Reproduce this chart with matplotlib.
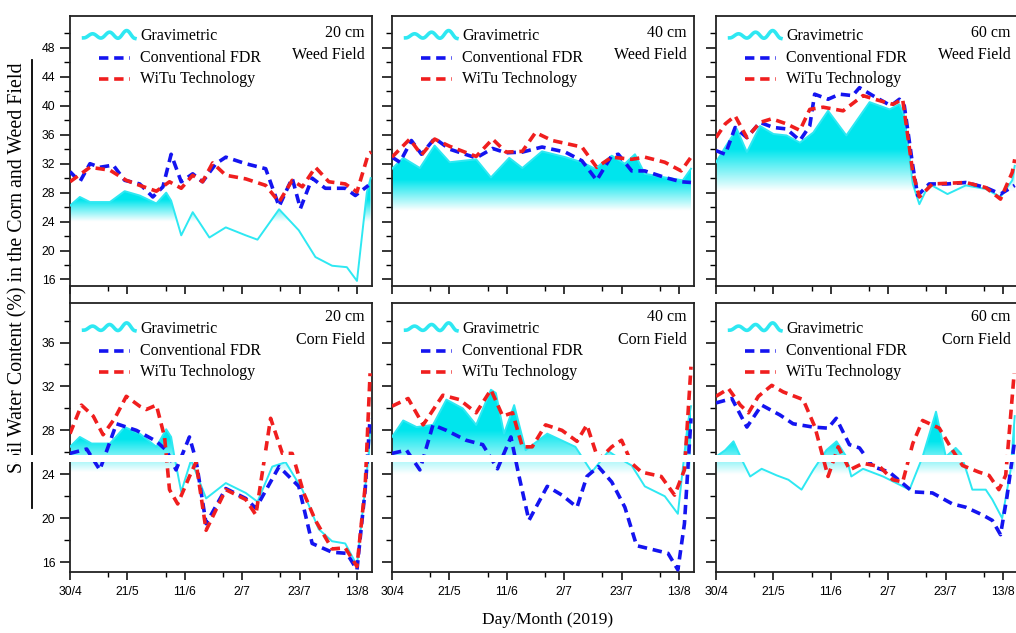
import numpy as np
import matplotlib
matplotlib.use("Agg")
import matplotlib.pyplot as plt
from matplotlib.lines import Line2D
from matplotlib.patches import Rectangle
from matplotlib.ticker import FixedLocator

# ==========================================================
# DATA  (days after 30/4/2019, soil water content %)
# ==========================================================
TICK_DAYS = [0, 21, 42, 63, 84, 105]
TICK_LABELS = ["30/4", "21/5", "11/6", "2/7", "23/7", "13/8"]
MINOR_DAYS = [14, 35, 56, 77, 98]

# --- Weed field, 20 cm
w20_grav_d = [0, 3.6, 7.3, 14.6, 20, 25.5, 31.6, 35.2, 37, 40.7, 44.9, 51, 57, 64.3, 68.6, 76.5, 83.7, 89.8, 95.9, 101.3, 105, 108.6, 110]
w20_grav = [26.2, 27.4, 26.7, 26.7, 28.2, 27.6, 26.5, 28, 26.9, 22.1, 25.3, 21.8, 23.2, 22.1, 21.5, 25.7, 22.8, 19.1, 17.9, 17.7, 15.8, 28, 30]
w20_fdr_d = [0, 3.6, 7.3, 10.9, 15.8, 20, 25.5, 30.3, 34, 37, 40.7, 44.9, 48.5, 53.4, 57, 64.3, 71.6, 76.5, 81.3, 84.3, 88.6, 93.4, 100.7, 104.4, 109.2]
w20_fdr = [30.9, 29.5, 32, 31.5, 31.8, 29.7, 29.2, 27.4, 28.8, 33.3, 29.5, 30.6, 29.5, 32, 32.9, 32, 31.3, 26.1, 30, 25.8, 30, 28.6, 28.6, 27.6, 29]
w20_witu_d = [0, 7.3, 14.6, 20.6, 25.5, 31.6, 36.4, 40.7, 44.9, 48.5, 52.2, 57, 64.3, 71.6, 76.5, 81.3, 85, 89.8, 94.7, 100.7, 105, 109.2, 110.2]
w20_witu = [29.5, 31.5, 31.1, 29.7, 29, 28.2, 29.5, 28.6, 30.4, 29.5, 32.1, 30.4, 29.9, 29, 26.7, 29.7, 28.8, 31.5, 29.5, 29.2, 28.1, 33.4, 33.6]

# --- Weed field, 40 cm
w40_grav_d = [0, 4.1, 10.2, 15.6, 21.1, 30.8, 36.2, 42.9, 47.7, 54.9, 63.4, 69.5, 74.3, 80.4, 85.2, 88.9, 92.5, 99.8, 106.4, 109.4]
w40_grav = [31.3, 32.8, 31.4, 34.5, 32.2, 32.6, 30.1, 32.8, 31.4, 33.7, 32.9, 32.2, 31.3, 33.1, 32, 33.3, 30.6, 30.1, 29.7, 31.3]
w40_fdr_d = [0, 2.9, 7.1, 10.8, 15.6, 21.1, 30.8, 36.8, 41.7, 47.7, 54.9, 63.4, 69.5, 74.9, 80.4, 82.8, 87.7, 92.5, 99.8, 105.8, 109.4]
w40_fdr = [32.9, 32.2, 35.2, 33.3, 35.5, 34, 32.8, 34.1, 33.5, 33.6, 34.3, 33.6, 32.4, 29.7, 33.1, 33.3, 31, 31, 30.1, 29.5, 29.4]
w40_witu_d = [0, 6.5, 10.8, 15.6, 21.1, 30.8, 36.8, 41.7, 47.7, 52.5, 58.6, 69.5, 74.9, 80.4, 87.7, 92.5, 99.8, 105.8, 109.4]
w40_witu = [32.9, 35.4, 33.2, 35.4, 34.4, 33, 35.4, 33.6, 33.7, 36.3, 35.2, 34.3, 31.5, 32.9, 32.6, 32.9, 32.2, 31, 32.9]

# --- Weed field, 60 cm
w60_grav_d = [0, 3.4, 7.6, 11.3, 16.1, 21, 25.8, 30.7, 35.6, 41, 47.7, 56.2, 63.5, 67.1, 68.9, 72, 74.4, 78, 84.7, 91.4, 98.7, 104.1, 108.4, 109.3]
w60_grav = [32.2, 34.3, 36.8, 33.6, 37.2, 36.1, 35.9, 34.9, 36.3, 39.3, 35.9, 40.5, 39.5, 40.2, 38.6, 29.2, 26.4, 29.2, 27.8, 29, 28.5, 27.4, 29.7, 31.7]
w60_fdr_d = [0, 3.4, 7.0, 11.3, 16.1, 21, 25.8, 30.7, 34.3, 36.1, 41, 45.2, 50, 52.5, 57.4, 64, 67.1, 68.9, 72, 73.8, 78, 84.7, 91.4, 98.7, 104.1, 109.3]
w60_fdr = [33.8, 33.3, 37, 35.6, 37.7, 37, 36.8, 35.2, 37.2, 41.6, 40.9, 41.6, 41.4, 42.5, 41.4, 40, 40.9, 40, 31.7, 27.6, 29.2, 29.2, 29.4, 28.7, 27.8, 29]
w60_witu_d = [0, 3.4, 7.0, 11.3, 16.1, 20.4, 25.8, 30.7, 34.3, 39.2, 46.5, 53.8, 59.9, 64.7, 68.3, 72, 74.4, 79.2, 91.4, 98.7, 104.1, 108.4, 109.3]
w60_witu = [35.6, 37.5, 38.6, 35.6, 37.7, 38.2, 37.5, 36.6, 39.5, 39.8, 39.3, 41.4, 40.7, 40.2, 40.9, 30.8, 27.4, 29.2, 29.4, 28.7, 27.1, 30.8, 32.6]

# --- Corn field, 20 cm
c20_grav_d = [0, 3.6, 7.9, 14.6, 20, 25.5, 31.6, 35.2, 37, 38.2, 40.7, 44.3, 49.8, 57, 64.3, 68.6, 74, 78.9, 85, 91, 95.9, 100.7, 105, 109.2, 109.8]
c20_grav = [26.5, 27.4, 26.8, 26.8, 28.3, 27.7, 26.5, 28.1, 27.4, 25.6, 22.4, 25.3, 21.8, 23.2, 22.3, 21.5, 24.7, 25.1, 22.6, 19, 17.9, 17.7, 15.7, 25.6, 28]
c20_fdr_d = [0, 6.1, 10.9, 17, 24.3, 31.6, 35.2, 38.8, 43.7, 46.1, 49.8, 57, 64.3, 68, 76.5, 83.7, 88.6, 95.9, 101.3, 105, 108, 109.8]
c20_fdr = [25.9, 26.3, 24.4, 28.6, 28, 27, 26.2, 24.4, 27.4, 25.3, 19.5, 22.7, 21.8, 20.9, 24.7, 22.9, 17.7, 16.9, 16.8, 15.3, 22.6, 29.1]
c20_witu_d = [0, 4.2, 8.5, 12.1, 16.4, 20.6, 25.5, 27.9, 31.6, 34.6, 36.4, 39.4, 43.7, 46.1, 49.8, 57, 64.3, 68, 73.4, 77.7, 81.3, 85.5, 89.8, 95.9, 100.7, 105, 108, 109.8]
c20_witu = [27.7, 30.3, 29.3, 27.6, 29.1, 31.1, 30.2, 29.9, 30.3, 27.4, 22.6, 21.3, 23.8, 25.1, 18.9, 22.6, 21.7, 20.3, 29.1, 25.9, 25.9, 22.3, 19.8, 17.2, 17.3, 15.6, 22.9, 33.2]

# --- Corn field, 40 cm
c40_grav_d = [0, 4.1, 9.0, 15.0, 19.9, 25.9, 30.8, 36.2, 38.0, 41.0, 44.7, 48.9, 56.8, 67.1, 73.1, 79.2, 82.8, 87.7, 92.5, 99.8, 104.6, 108.2, 109.4]
c40_grav = [27.4, 28.9, 28.3, 28.5, 30.8, 30.0, 28.5, 31.7, 31.4, 27.7, 30.3, 26.2, 27.7, 26.5, 24.2, 26.1, 25.5, 24.8, 22.9, 22.0, 20.4, 28.6, 30.2]
c40_fdr_d = [0, 5.3, 10.2, 15, 19.9, 27.1, 33.2, 38.6, 43.5, 46.5, 50.1, 56.8, 62.2, 67.7, 71.3, 75.5, 80.4, 85.2, 89.5, 96.1, 101, 104.6, 107, 109.4]
c40_fdr = [25.9, 26.2, 24.4, 28.5, 28, 27.1, 26.7, 24.5, 27.4, 23.8, 19.8, 22.9, 22.1, 21, 23.8, 24.7, 23.3, 21, 17.5, 17.1, 16.8, 15.3, 19.5, 29.1]
c40_witu_d = [0, 5.9, 11.4, 18.6, 24.7, 30.8, 36.2, 40.5, 44.1, 47.7, 51.3, 56.2, 62.2, 67.7, 71.3, 75.5, 80.4, 84, 87.7, 91.3, 98.5, 103.4, 107, 109.4]
c40_witu = [30.2, 30.9, 28.5, 31.2, 30.8, 29.6, 31.7, 29.3, 29.6, 26.5, 26.5, 28.5, 28, 27, 28.5, 25.3, 26.5, 27.1, 25, 24.2, 23.8, 22.1, 24.4, 33.8]

# --- Corn field, 60 cm
c60_grav_d = [0, 3.4, 6.4, 9.5, 12.5, 16.7, 22.2, 26.5, 31.3, 35.6, 40.4, 44.1, 47.7, 49.5, 53.8, 61.1, 70.8, 75.6, 80.5, 84.1, 87.7, 89.6, 93.8, 98.7, 101.1, 104.7, 107.8, 109.3]
c60_grav = [25.6, 26.2, 27, 25.3, 23.8, 24.5, 23.9, 23.5, 22.6, 24.4, 26.2, 27, 25.6, 23.8, 24.5, 23.8, 22.6, 25.6, 29.7, 25.6, 26.4, 25.9, 22.6, 22.6, 21.7, 20, 24.4, 29.3]
c60_fdr_d = [0, 5.8, 11.3, 16.7, 23.4, 28.2, 35.5, 41, 44, 48.8, 52.5, 57.4, 63.4, 72, 79.2, 86.5, 91.4, 97.5, 101.1, 104.1, 106.5, 109.3]
c60_fdr = [30.5, 30.9, 28.3, 30.3, 29.4, 28.6, 28.3, 28.2, 29.1, 26.7, 26.4, 24.7, 24.2, 22.4, 22.3, 21.3, 21, 20.3, 19.8, 18.5, 22, 27.1]
c60_witu_d = [0, 4.6, 8.9, 11.9, 15.5, 20.4, 24.6, 31.9, 36.2, 41, 44.7, 48.9, 53.8, 59.9, 64.7, 68.3, 72, 75.6, 81.7, 86.5, 90.2, 96.2, 99.9, 103.5, 106, 109.1]
c60_witu = [31.1, 31.8, 30.3, 29.6, 31.1, 32.1, 31.5, 30.8, 28.3, 23.8, 26.5, 24.4, 25, 24.7, 23.5, 23.3, 26.8, 28.9, 28.2, 26.2, 24.8, 24.2, 23.9, 22.6, 23.9, 33.2]

# ==========================================================
# STYLE
# ==========================================================
W, H = 1016, 633
CYAN_LINE = "#2ee8f2"
CYAN_FILL = np.array([0.0, 0.90, 0.93])
BLUE = "#1414f0"
RED = "#f01e1e"
SERIF = "Liberation Serif"
SANS = "Liberation Sans"
XMAX = 110.5

TOP_YLIM = (15.1, 52.4)
BOT_YLIM = (15.1, 39.6)

plt.rcParams["font.family"] = SANS

fig = plt.figure(figsize=(W / 100, H / 100), dpi=100)

col_left = [70, 392, 716]
panel_w = 302
rows = [(16, 286), (303, 572)]


def px_axes(left, top, bottom):
    return fig.add_axes([left / W, 1 - bottom / H, panel_w / W, (bottom - top) / H])


def grad_fill(ax, x, y, ylim, full, white):
    x = np.asarray(x, float)
    y = np.asarray(y, float)
    poly = ax.fill_between(x, y, ylim[0] - 5, facecolor="none", edgecolor="none")
    path = poly.get_paths()[0]
    yy = np.linspace(ylim[0], ylim[1], 400)
    t = np.clip((yy - white) / (full - white), 0, 1)[:, None]
    rgb = (1 - t) * np.ones(3) + t * CYAN_FILL
    img = np.repeat(rgb[:, None, :], 2, axis=1)
    im = ax.imshow(img, extent=[x.min(), x.max(), ylim[0], ylim[1]],
                   origin="lower", aspect="auto", zorder=1, interpolation="bilinear")
    im.set_clip_path(path, transform=ax.transData)


def legend_block(ax, ys):
    # wavy handle for gravimetric (humps growing to the right)
    wx = np.linspace(0.045, 0.215, 80)
    s = (wx - 0.045) / 0.17
    wy = ys[0] + (0.006 + 0.01 * s) * np.sin(s * 3 * 2 * np.pi - 1.6) + 0.008 * s
    ax.plot(wx, wy, color=CYAN_LINE, lw=2.6, transform=ax.transAxes, zorder=6, clip_on=False)
    ax.plot([0.095, 0.2], [ys[1]] * 2, color=BLUE, lw=2.6, ls=(0, (2.6, 1.6)),
            transform=ax.transAxes, zorder=6)
    ax.plot([0.095, 0.2], [ys[2]] * 2, color=RED, lw=2.6, ls=(0, (2.6, 1.6)),
            transform=ax.transAxes, zorder=6)
    for yv, lab in zip(ys, ["Gravimetric", "Conventional FDR", "WiTu Technology"]):
        ax.text(0.232, yv, lab, transform=ax.transAxes, family=SERIF, fontsize=11.5,
                va="center", ha="left", zorder=6)


panels = [
    (0, 0, w20_grav_d, w20_grav, w20_fdr_d, w20_fdr, w20_witu_d, w20_witu, "20 cm", "Weed Field", (27.0, 24.0)),
    (0, 1, w40_grav_d, w40_grav, w40_fdr_d, w40_fdr, w40_witu_d, w40_witu, "40 cm", "Weed Field", (29.8, 25.5)),
    (0, 2, w60_grav_d, w60_grav, w60_fdr_d, w60_fdr, w60_witu_d, w60_witu, "60 cm", "Weed Field", (34.0, 28.2)),
    (1, 0, c20_grav_d, c20_grav, c20_fdr_d, c20_fdr, c20_witu_d, c20_witu, "20 cm", "Corn Field", (27.2, 24.2)),
    (1, 1, c40_grav_d, c40_grav, c40_fdr_d, c40_fdr, c40_witu_d, c40_witu, "40 cm", "Corn Field", (28.0, 24.0)),
    (1, 2, c60_grav_d, c60_grav, c60_fdr_d, c60_fdr, c60_witu_d, c60_witu, "60 cm", "Corn Field", (27.0, 24.0)),
]

for r, c, gd, gv, fd, fv, wd, wv, depth, field, (full, white) in panels:
    top, bottom = rows[r]
    ax = px_axes(col_left[c], top, bottom)
    ylim = TOP_YLIM if r == 0 else BOT_YLIM

    grad_fill(ax, gd, gv, ylim, full, white)
    ax.plot(gd, gv, color=CYAN_LINE, lw=1.4, zorder=3)
    ax.plot(fd, fv, color=BLUE, lw=2.6, ls=(0, (2.6, 1.6)), zorder=4)
    ax.plot(wd, wv, color=RED, lw=2.6, ls=(0, (2.6, 1.6)), zorder=5)

    ax.set_xlim(0, XMAX)
    ax.set_ylim(*ylim)

    ax.xaxis.set_major_locator(FixedLocator(TICK_DAYS))
    ax.xaxis.set_minor_locator(FixedLocator(MINOR_DAYS))
    if r == 0:
        ax.yaxis.set_major_locator(FixedLocator(range(16, 49, 4)))
        ax.yaxis.set_minor_locator(FixedLocator(range(16, 51, 2)))
        ax.set_xticklabels([])
    else:
        ax.yaxis.set_major_locator(FixedLocator(range(16, 37, 4)))
        ax.yaxis.set_minor_locator(FixedLocator(range(16, 39, 2)))
        ax.set_xticklabels(TICK_LABELS)
    if c != 0:
        ax.set_yticklabels([])

    ax.tick_params(axis="x", which="major", direction="out", length=6, width=1.1, labelsize=8.8, pad=4)
    ax.tick_params(axis="y", which="major", direction="out", length=7.5, width=1.1, labelsize=8.8, pad=3)
    ax.tick_params(axis="x", which="minor", direction="out", length=3.5, width=1.0)
    ax.tick_params(axis="y", which="minor", direction="out", length=4, width=1.0)
    for sp in ax.spines.values():
        sp.set_linewidth(1.3)
        sp.set_color("#222222")

    if r == 0:
        legend_block(ax, [0.925, 0.843, 0.765])
        ax.text(0.975, 0.937, depth, transform=ax.transAxes, family=SERIF, fontsize=11.5, ha="right", va="center")
        ax.text(0.975, 0.855, field, transform=ax.transAxes, family=SERIF, fontsize=11.5, ha="right", va="center")
    else:
        legend_block(ax, [0.905, 0.822, 0.745])
        ax.text(0.975, 0.948, depth, transform=ax.transAxes, family=SERIF, fontsize=11.5, ha="right", va="center")
        ax.text(0.975, 0.862, field, transform=ax.transAxes, family=SERIF, fontsize=11.5, ha="right", va="center")

# ==========================================================
# FIGURE TEXT / DECORATION
# ==========================================================
fig.text(18 / W, 1 - 268 / H, "Soil Water Content (%) in the Corn and Weed Field",
         rotation=90, family=SERIF, fontsize=14.3, ha="center", va="center")
fig.text(548 / W, 1 - 620 / H, "Day/Month (2019)", family=SERIF, fontsize=12.5,
         ha="center", va="center")
fig.add_artist(Line2D([32 / W, 32 / W], [1 - 60 / H, 1 - 508 / H], color="black", lw=1.3))
fig.add_artist(Line2D([70 / W, 70 / W], [1 - 286 / H, 1 - 303 / H], color="#222222", lw=1.3))

# white streak across the picture
fig.add_artist(Rectangle((0, 1 - 462 / H), 1, 7 / H, transform=fig.transFigure,
                         facecolor="white", edgecolor="none", zorder=20))

fig.savefig("out.png", dpi=100)
